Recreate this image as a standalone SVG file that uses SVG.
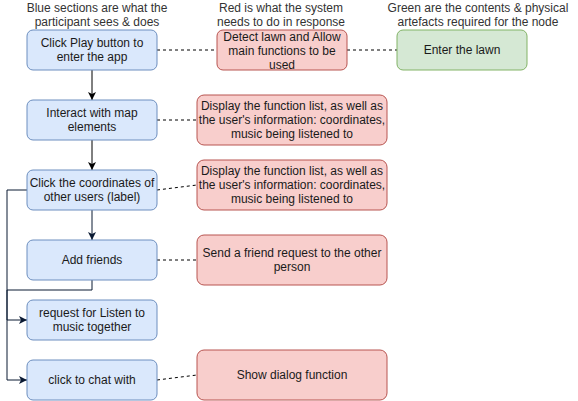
<svg xmlns="http://www.w3.org/2000/svg" width="578" height="401" viewBox="0 0 578 401">
<style>
text{font-family:"Liberation Sans",Arial,sans-serif;font-size:12px;text-anchor:middle;fill:#1a1a1a}
.hdr{fill:#333333}
.blue{fill:#dae8fc;stroke:#6c8ebf;stroke-width:1}
.red{fill:#f8cecc;stroke:#b85450;stroke-width:1}
.green{fill:#d5e8d4;stroke:#82b366;stroke-width:1}
.dash{fill:none;stroke:#000;stroke-width:1;stroke-dasharray:3,3}
.blk{fill:none;stroke:#000;stroke-width:1}
.nav{fill:none;stroke:#0b1a33;stroke-width:1}
</style>
<defs>
<marker id="ab" markerWidth="10" markerHeight="10" refX="8" refY="5" orient="auto" markerUnits="userSpaceOnUse">
<path d="M0,1 L8,5 L0,9 L2,5 Z" fill="#000"/>
</marker>
<marker id="an" markerWidth="10" markerHeight="10" refX="8" refY="5" orient="auto" markerUnits="userSpaceOnUse">
<path d="M0,1 L8,5 L0,9 L2,5 Z" fill="#0b1a33"/>
</marker>
</defs>
<rect width="578" height="401" fill="#ffffff"/>
<g id="headers">
<text class="hdr" x="97" y="12">Blue sections are what the</text>
<text class="hdr" x="97" y="26">participant sees &amp; does</text>
<text class="hdr" x="281" y="12">Red is what the system</text>
<text class="hdr" x="281" y="26">needs to do in response</text>
<text class="hdr" x="478" y="12">Green are the contents &amp; physical</text>
<text class="hdr" x="478" y="26">artefacts required for the node</text>
</g>
<g id="connectors">
<path class="blk" d="M92,70 V100" marker-end="url(#ab)"/>
<path class="blk" d="M92,140 V170" marker-end="url(#ab)"/>
<path class="nav" d="M92,210 V240" marker-end="url(#an)"/>
<path class="nav" d="M27,190 H7 V380 H27" marker-end="url(#an)"/>
<path class="nav" d="M92,280 V290 H7 V320 H27" marker-end="url(#an)"/>
<path class="dash" d="M157,50 H217"/>
<path class="dash" d="M347,50 H397"/>
<path class="dash" d="M157,120 H197"/>
<path class="dash" d="M157,190 L197,185"/>
<path class="dash" d="M157,260 H197"/>
<path class="dash" d="M157,380 L197,375"/>
</g>
<g id="b1"><rect class="blue" x="27" y="30" width="130" height="40" rx="6"/><text x="92" y="47">Click Play button to</text><text x="92" y="61">enter the app</text></g>
<g id="b2"><rect class="blue" x="27" y="100" width="130" height="40" rx="6"/><text x="92" y="117">Interact with map</text><text x="92" y="131">elements</text></g>
<g id="b3"><rect class="blue" x="27" y="170" width="130" height="40" rx="6"/><text x="92" y="187">Click the coordinates of</text><text x="92" y="201">other users (label)</text></g>
<g id="b4"><rect class="blue" x="27" y="240" width="130" height="40" rx="6"/><text x="92" y="264">Add friends</text></g>
<g id="b5"><rect class="blue" x="27" y="300" width="130" height="40" rx="6"/><text x="92" y="317">request for Listen to</text><text x="92" y="331">music together</text></g>
<g id="b6"><rect class="blue" x="27" y="360" width="130" height="40" rx="6"/><text x="92" y="384">click to chat with</text></g>
<g id="r1"><rect class="red" x="217" y="30" width="130" height="40" rx="6"/><text x="282" y="41">Detect lawn and Allow</text><text x="282" y="55">main functions to be</text><text x="282" y="69">used</text></g>
<g id="r2"><rect class="red" x="197" y="95" width="190" height="50" rx="7"/><text x="292" y="110">Display the function list, as well as</text><text x="292" y="124">the user's information: coordinates,</text><text x="292" y="138">music being listened to</text></g>
<g id="r3"><rect class="red" x="197" y="160" width="190" height="50" rx="7"/><text x="292" y="175">Display the function list, as well as</text><text x="292" y="189">the user's information: coordinates,</text><text x="292" y="203">music being listened to</text></g>
<g id="r4"><rect class="red" x="197" y="235" width="190" height="50" rx="7"/><text x="292" y="257">Send a friend request to the other</text><text x="292" y="271">person</text></g>
<g id="r6"><rect class="red" x="197" y="350" width="190" height="50" rx="7"/><text x="292" y="379">Show dialog function</text></g>
<g id="g1"><rect class="green" x="397" y="30" width="130" height="40" rx="6"/><text x="462" y="54">Enter the lawn</text></g>
</svg>
